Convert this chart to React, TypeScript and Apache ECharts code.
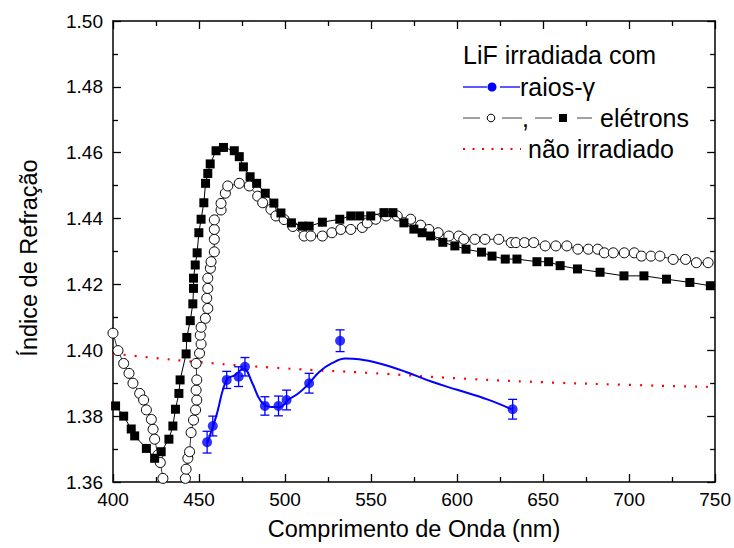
import React, { useEffect, useRef } from "react";
import * as echarts from "echarts";

const FONT = "'Liberation Sans', Arial, Helvetica, sans-serif";

// Open circles (electron irradiated, sample 1)
const circlesX = [400, 402.9, 406.2, 409.3, 411.6, 415.5, 417.8, 419.4, 422.3, 423.3, 424.2, 426.1, 427.5, 429, 432, 437, 442.1, 442.5, 443.5, 444.5, 445.4, 446.8, 448, 448.7, 448.3, 448.7, 448.3, 450.3, 451.2, 450.7, 451.2, 453.7, 455.1, 454.5, 455.1, 455.1, 456.6, 457, 458.9, 458.9, 458.9, 458.9, 462.8, 462.8, 465.3, 466.7, 473.4, 479.2, 484.1, 487, 491.8, 494.7, 499.5, 504.5, 511.1, 515, 521.7, 527.2, 532.4, 538.2, 544.9, 547.8, 552.7, 558.8, 565.2, 573, 578.8, 583.6, 589, 595.2, 601, 603.9, 610.3, 616.2, 624.2, 631.5, 634.2, 639.2, 644.5, 651.2, 657.4, 663.8, 670.2, 676.3, 681.7, 685.6, 690.8, 697.2, 703, 707.2, 712.7, 717.9, 725.6, 732.8, 739.1, 745.9];
const circlesY = [1.4052, 1.3999, 1.396, 1.393, 1.39, 1.3869, 1.3849, 1.3819, 1.379, 1.376, 1.373, 1.3682, 1.3659, 1.3611, 1.354, 1.353, 1.3611, 1.3639, 1.3672, 1.3692, 1.375, 1.3788, 1.3819, 1.3849, 1.3879, 1.391, 1.396, 1.3991, 1.4019, 1.4046, 1.407, 1.4097, 1.4127, 1.4158, 1.4188, 1.4219, 1.4249, 1.4269, 1.4299, 1.4337, 1.4367, 1.4396, 1.4426, 1.4446, 1.4477, 1.4499, 1.4507, 1.4499, 1.4468, 1.4448, 1.4428, 1.4408, 1.4397, 1.4376, 1.4347, 1.4347, 1.4347, 1.4357, 1.4367, 1.4367, 1.4373, 1.4387, 1.4398, 1.4408, 1.4408, 1.4398, 1.438, 1.4367, 1.4357, 1.4347, 1.4347, 1.4337, 1.4337, 1.4337, 1.4337, 1.4327, 1.4327, 1.4327, 1.4327, 1.4317, 1.4317, 1.4317, 1.4307, 1.4307, 1.4307, 1.4296, 1.4296, 1.4296, 1.4296, 1.4286, 1.4286, 1.4286, 1.4276, 1.4276, 1.4266, 1.4266];

// Filled squares (electron irradiated, sample 2)
const squaresX = [401.5, 406.2, 410.6, 412.6, 419.4, 424.2, 428, 432.5, 434.8, 436.3, 438.3, 439, 442.5, 442.9, 444.9, 446.4, 446.8, 446.8, 447.8, 448.9, 449.9, 451.2, 452.8, 453.8, 455.1, 456.5, 459.9, 464.2, 470.5, 473.4, 475.8, 479.7, 483.5, 488.5, 493.5, 497.6, 503.7, 510.1, 514, 521.7, 531.8, 538.2, 543.4, 549.8, 557.5, 562.7, 569.1, 574.9, 579.7, 584.6, 591.7, 598.7, 605.2, 614.2, 620.3, 628, 634.8, 646.4, 653.2, 659.9, 670, 683.1, 697, 708.6, 721.7, 735.3, 747.2];
const squaresY = [1.3831, 1.38, 1.3761, 1.374, 1.3702, 1.3672, 1.3692, 1.373, 1.377, 1.3821, 1.3869, 1.391, 1.3989, 1.4039, 1.409, 1.4141, 1.4188, 1.4219, 1.4259, 1.4296, 1.4357, 1.4398, 1.4448, 1.4507, 1.4537, 1.4566, 1.4606, 1.4616, 1.4606, 1.4588, 1.4557, 1.4527, 1.4507, 1.4477, 1.4447, 1.4417, 1.4387, 1.4377, 1.4377, 1.4389, 1.4398, 1.4408, 1.4408, 1.4408, 1.4418, 1.4418, 1.4387, 1.4368, 1.4357, 1.4347, 1.4328, 1.4317, 1.4307, 1.4298, 1.4286, 1.4277, 1.4277, 1.4269, 1.4269, 1.4257, 1.4247, 1.4237, 1.4226, 1.4226, 1.4216, 1.4206, 1.4196];

// Gamma-irradiated points with error bars
const gammaX = [454.7, 458, 466.1, 473, 476.7, 488.3, 496.2, 500.9, 514, 532, 632.3];
const gammaY = [1.3721, 1.377, 1.391, 1.392, 1.395, 1.3831, 1.3831, 1.3849, 1.39, 1.4029, 1.3821];
const gammaErr = [0.0033, 0.003, 0.0026, 0.003, 0.0028, 0.0028, 0.003, 0.003, 0.003, 0.0033, 0.003];

// Spline fit through gamma points
const fitX = [455, 460, 466, 471, 476, 481, 486, 492, 497, 502, 508, 514, 520, 527, 535, 543, 555, 570, 585, 600, 618, 632];
const fitY = [1.372, 1.38, 1.391, 1.3925, 1.3945, 1.39, 1.3845, 1.3828, 1.3828, 1.385, 1.387, 1.39, 1.3935, 1.396, 1.3975, 1.3973, 1.396, 1.3935, 1.3905, 1.388, 1.385, 1.382];

// Non-irradiated dispersion
const refX = [400, 450, 500, 550, 600, 650, 700, 750];
const refY = [1.399, 1.3964, 1.3945, 1.3931, 1.3915, 1.3903, 1.3895, 1.3888];

const zip = (xs: number[], ys: number[]) => xs.map((x, i) => [x, ys[i]]);

export default function App() {
  const ref = useRef<HTMLDivElement>(null);
  useEffect(() => {
    if (!ref.current) return;
    const chart = echarts.init(ref.current, undefined, { renderer: "svg" });
    const axisCommon = {
      axisLine: { show: true, onZero: false, lineStyle: { color: "#000", width: 1.5 } },
      axisTick: { show: true, inside: true, length: 8, lineStyle: { color: "#000", width: 1.3 } },
      minorTick: { show: true, splitNumber: 2, length: 5, lineStyle: { color: "#000", width: 1.3 } },
      splitLine: { show: false },
      minorSplitLine: { show: false },
    };
    const xBase = { type: "value", min: 400, max: 750, interval: 50, ...axisCommon };
    const yBase = { type: "value", min: 1.36, max: 1.5, interval: 0.02, ...axisCommon };
    const errData = gammaX.map((x, i) => [x, gammaY[i] - gammaErr[i], gammaY[i] + gammaErr[i]]);

    const LF = `25px ${FONT}`;
    const TF = `23.5px ${FONT}`;
    const option: any = {
      animation: false,
      grid: { left: 113, right: 17, top: 21, bottom: 66 },
      xAxis: [
        {
          ...xBase,
          position: "bottom",
          axisLabel: { show: true, color: "#000", fontSize: 19, fontFamily: FONT, margin: 8 },
        },
        { ...xBase, position: "top", axisLabel: { show: false } },
      ],
      yAxis: [
        {
          ...yBase,
          position: "left",
          axisLabel: {
            show: true, color: "#000", fontSize: 19, fontFamily: FONT, margin: 10,
            formatter: (v: number) => v.toFixed(2),
          },
        },
        { ...yBase, position: "right", axisLabel: { show: false } },
      ],
      series: [
        {
          type: "line",
          data: zip(refX, refY),
          smooth: true,
          symbol: "none",
          lineStyle: { color: "#ff0000", width: 2.2, type: [2, 9] },
          z: 1,
        },
        {
          type: "line",
          data: zip(circlesX, circlesY),
          symbol: "circle",
          symbolSize: 10,
          itemStyle: { color: "#fff", borderColor: "#000", borderWidth: 1 },
          lineStyle: { color: "#000", width: 0.8 },
          z: 2,
        },
        {
          type: "line",
          data: zip(squaresX, squaresY),
          symbol: "rect",
          symbolSize: 9,
          itemStyle: { color: "#000" },
          lineStyle: { color: "#000", width: 1 },
          z: 3,
        },
        {
          type: "line",
          data: zip(fitX, fitY),
          smooth: 0.4,
          symbol: "none",
          lineStyle: { color: "#0000ff", width: 2 },
          z: 4,
        },
        {
          type: "custom",
          data: errData,
          renderItem: (params: any, api: any) => {
            const x = api.value(0);
            const lo = api.coord([x, api.value(1)]);
            const hi = api.coord([x, api.value(2)]);
            const w = 4.5;
            const st = { stroke: "#0000ff", lineWidth: 1.3 };
            return {
              type: "group",
              children: [
                { type: "line", shape: { x1: lo[0], y1: lo[1], x2: hi[0], y2: hi[1] }, style: st },
                { type: "line", shape: { x1: lo[0] - w, y1: lo[1], x2: lo[0] + w, y2: lo[1] }, style: st },
                { type: "line", shape: { x1: hi[0] - w, y1: hi[1], x2: hi[0] + w, y2: hi[1] }, style: st },
              ],
            };
          },
          z: 5,
        },
        {
          type: "scatter",
          data: zip(gammaX, gammaY),
          symbol: "circle",
          symbolSize: 10,
          itemStyle: { color: "#0000ff" },
          z: 6,
        },
      ],
      graphic: [
        {
          type: "text", x: 414, y: 529,
          style: { text: "Comprimento de Onda (nm)", fill: "#000", font: TF, align: "center", verticalAlign: "middle" },
        },
        {
          type: "text", x: 29, y: 258, rotation: Math.PI / 2,
          style: { text: "Índice de Refração", fill: "#000", font: TF, align: "center", verticalAlign: "middle" },
        },
        {
          type: "text", x: 463, y: 55,
          style: { text: "LiF irradiada com", fill: "#000", font: LF, align: "left", verticalAlign: "middle" },
        },
        { type: "line", shape: { x1: 463, y1: 87, x2: 487, y2: 87 }, style: { stroke: "#0000ff", lineWidth: 1.3 } },
        { type: "circle", shape: { cx: 492, cy: 87, r: 4.5 }, style: { fill: "#0000ff" } },
        { type: "line", shape: { x1: 500, y1: 87, x2: 520, y2: 87 }, style: { stroke: "#0000ff", lineWidth: 1.3 } },
        {
          type: "text", x: 520, y: 87,
          style: { text: "raios-γ", fill: "#000", font: LF, align: "left", verticalAlign: "middle" },
        },
        { type: "line", shape: { x1: 463, y1: 118, x2: 480, y2: 118 }, style: { stroke: "#444", lineWidth: 1 } },
        { type: "circle", shape: { cx: 491, cy: 118, r: 3.8 }, style: { fill: "#fff", stroke: "#000", lineWidth: 1 } },
        { type: "line", shape: { x1: 502, y1: 118, x2: 522, y2: 118 }, style: { stroke: "#444", lineWidth: 1 } },
        {
          type: "text", x: 522, y: 118,
          style: { text: ",", fill: "#000", font: LF, align: "left", verticalAlign: "middle" },
        },
        { type: "line", shape: { x1: 535, y1: 118, x2: 552, y2: 118 }, style: { stroke: "#444", lineWidth: 1 } },
        { type: "rect", shape: { x: 559, y: 114, width: 8, height: 8 }, style: { fill: "#000" } },
        { type: "line", shape: { x1: 577, y1: 118, x2: 592, y2: 118 }, style: { stroke: "#444", lineWidth: 1 } },
        {
          type: "text", x: 600, y: 118,
          style: { text: "elétrons", fill: "#000", font: LF, align: "left", verticalAlign: "middle" },
        },
        { type: "line", shape: { x1: 463, y1: 149, x2: 521, y2: 149 }, style: { stroke: "#ff0000", lineWidth: 2, lineDash: [2, 7.5] } },
        {
          type: "text", x: 528, y: 149,
          style: { text: "não irradiado", fill: "#000", font: LF, align: "left", verticalAlign: "middle" },
        },
      ],
    };
    chart.setOption(option);
    return () => chart.dispose();
  }, []);
  return (
    <div
      ref={ref}
      style={{ position: "fixed", left: 0, top: 0, width: 734, height: 548, background: "#fff" }}
    />
  );
}
